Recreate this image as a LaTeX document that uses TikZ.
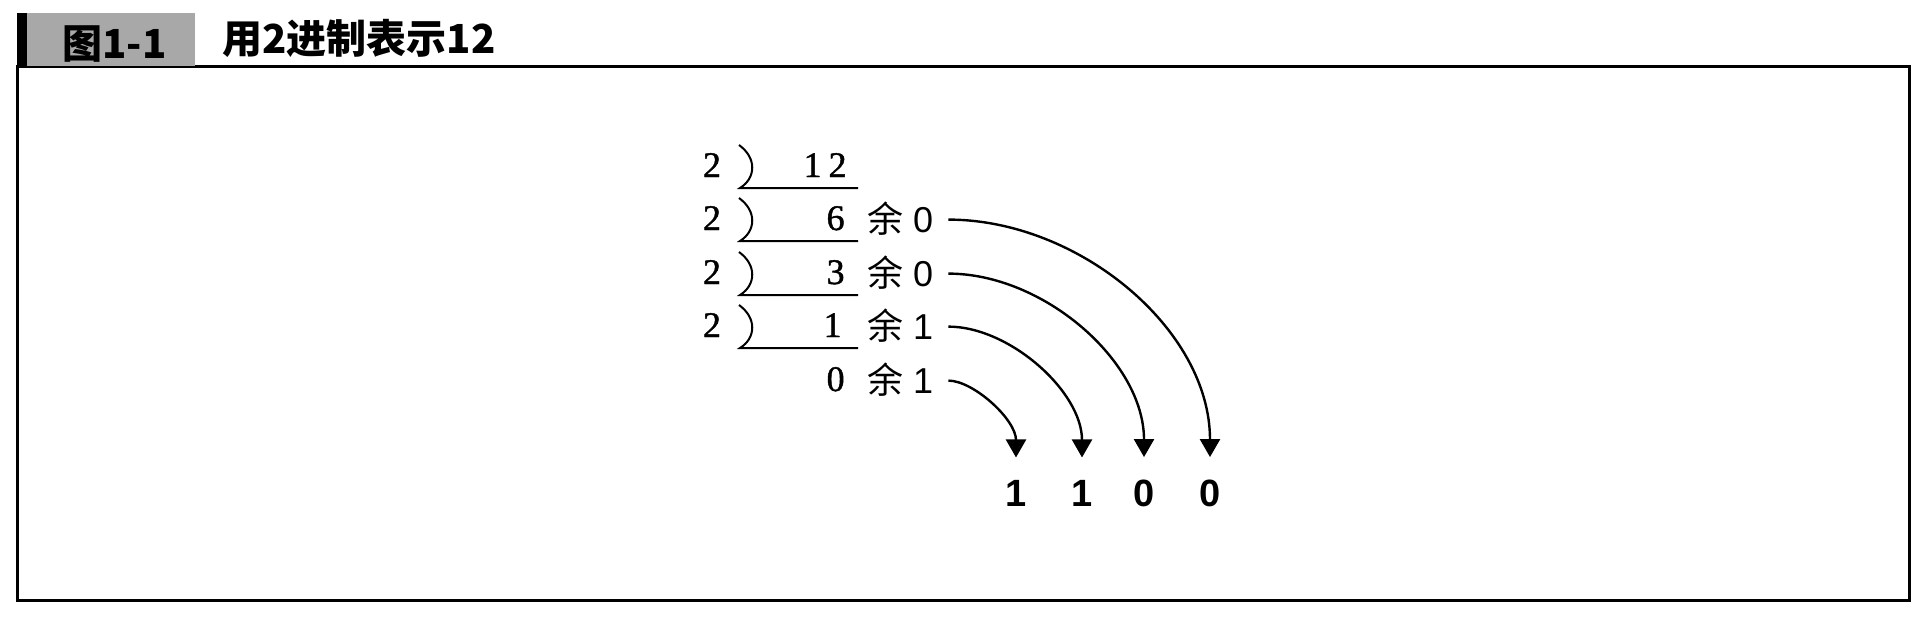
\documentclass[tikz,border=0pt]{standalone}
\usepackage{fontspec}
\usetikzlibrary{arrows.meta}
\setmainfont{Liberation Serif}
\newfontfamily\numfont{Liberation Serif}[FakeBold=1.2]
\newfontfamily\arial{Liberation Sans}
\newfontfamily\cjk{Noto Sans CJK SC}
\newcommand{\Yu}{\cjk 余}
\newcommand{\FigNo}{\cjk\bfseries 图1-1}
\newcommand{\FigTitle}{\cjk\bfseries 用2进制表示12}
\definecolor{labelgray}{gray}{0.66}

\begin{document}
\begin{tikzpicture}[x=0.5pt, y=-0.5pt,
    num/.style={inner sep=0pt, font=\numfont\fontsize{18}{18}\selectfont},
    rem/.style={inner sep=0pt, font=\arial\fontsize{18}{18}\selectfont},
    yu/.style={inner sep=0pt, font=\fontsize{18}{18}\selectfont},
    bit/.style={inner sep=0pt, font=\arial\bfseries\fontsize{19}{19}\selectfont},
    divline/.style={line width=1pt},
    carry/.style={-{Triangle[width=10pt, length=9pt]}, line width=1.2pt,
                  shorten <=7.5pt, shorten >=11pt}]
  \useasboundingbox (0, 0) rectangle (1922, 616);
  % frame and heading
  \draw[line width=1.5pt] (17, 66) rectangle (1909, 600);
  \fill[labelgray] (17, 13) rectangle (195, 66);
  \fill[black]     (17, 13) rectangle (27, 66);
  \node[anchor=base west, inner sep=0pt, font=\fontsize{20}{20}\selectfont] (figno) at (62, 58) {\FigNo};
  \node[anchor=base west, inner sep=0pt, font=\fontsize{20}{20}\selectfont] (title) at (222, 53) {\FigTitle};
  % divisors
  \node[num, anchor=base] (d0) at (712, 177) {2};
  \node[num, anchor=base] (d1) at (712, 230) {2};
  \node[num, anchor=base] (d2) at (712, 284) {2};
  \node[num, anchor=base] (d3) at (712, 337) {2};
  % quotients
  \node[num, anchor=base east] (q0) at (847, 177) {1\kern3.5pt 2};
  \node[num, anchor=base east] (q1) at (845, 230) {6};
  \node[num, anchor=base east] (q2) at (845, 284) {3};
  \node[num, anchor=base east] (q3) at (842, 337) {1};
  \node[num, anchor=base east] (q4) at (845, 391) {0};
  % division brackets
  \draw[divline] (739, 145) .. controls (757, 158) and (756, 178) .. (740, 188) -- (858, 188);
  \draw[divline] (739, 198) .. controls (757, 211) and (756, 231) .. (740, 241) -- (858, 241);
  \draw[divline] (739, 252) .. controls (757, 265) and (756, 285) .. (740, 295) -- (858, 295);
  \draw[divline] (739, 305) .. controls (757, 318) and (756, 338) .. (740, 348) -- (858, 348);
  % remainders
  \node[yu, anchor=base] (yu1) at (885, 232) {\Yu};
  \node[yu, anchor=base] (yu2) at (885, 286) {\Yu};
  \node[yu, anchor=base] (yu3) at (885, 339) {\Yu};
  \node[yu, anchor=base] (yu4) at (885, 393) {\Yu};
  \node[rem, anchor=base] (r1) at (923, 232) {0};
  \node[rem, anchor=base] (r2) at (923, 286) {0};
  \node[rem, anchor=base] (r3) at (923, 339) {1};
  \node[rem, anchor=base] (r4) at (923, 393) {1};
  % binary result
  \node[bit, anchor=base] (b1) at (1016, 506) {1};
  \node[bit, anchor=base] (b2) at (1082, 506) {1};
  \node[bit, anchor=base] (b3) at (1144, 506) {0};
  \node[bit, anchor=base] (b4) at (1210, 506) {0};
  \draw[carry] (r1.east) .. controls +(145, 0) and +(0, -150) .. (b4.north);
  \draw[carry] (r2.east) .. controls +(110, 0) and +(0, -118) .. (b3.north);
  \draw[carry] (r3.east) .. controls +(76, 0) and +(0, -88) .. (b2.north);
  \draw[carry] (r4.east) .. controls +(40, 0) and +(0, -60) .. (b1.north);
\end{tikzpicture}
\end{document}
